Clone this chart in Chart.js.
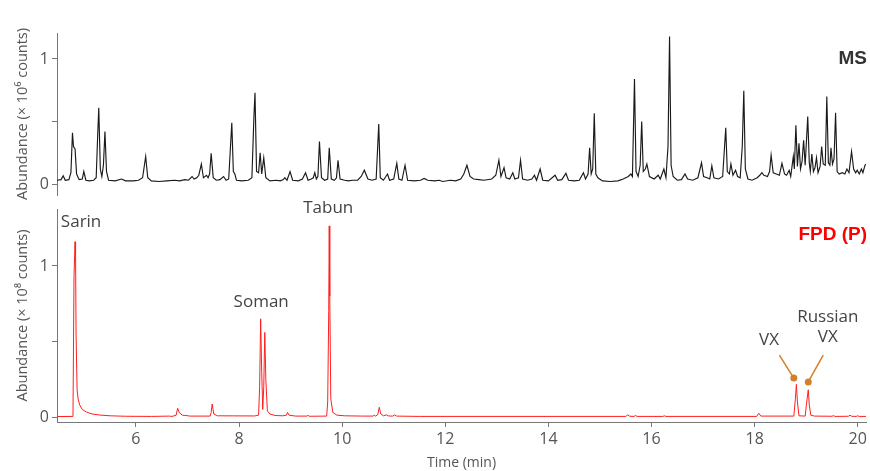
<!DOCTYPE html>
<html>
<head>
<meta charset="utf-8">
<script src="https://cdn.jsdelivr.net/npm/chart.js@4.4.1/dist/chart.umd.min.js"></script>
<style>
  body { margin: 0; background: #fff; }
  #top { position: absolute; left: 0; top: 0; width: 870px; height: 200px; }
  #bot { position: absolute; left: 0; top: 200px; width: 870px; height: 271px; }
</style>
</head>
<body>
<div id="top"><canvas id="msChart"></canvas></div>
<div id="bot"><canvas id="fpdChart"></canvas></div>
<script>
// ---- data ----
const timeRange = [4.47, 20.16];
const timeTicks = [6, 8, 10, 12, 14, 16, 18, 20];
const abundTicks = [0, 0.5, 1];

const msTime = [
  4.47, 4.55, 4.59, 4.63, 4.70, 4.74, 4.77, 4.79, 4.82, 4.85, 4.90, 4.96, 4.99, 5.03, 5.10, 5.18,
  5.23, 5.26, 5.28, 5.31, 5.34, 5.37, 5.40, 5.43, 5.47, 5.60, 5.72, 5.80, 5.95, 6.05, 6.13, 6.19,
  6.23, 6.30, 6.45, 6.60, 6.75, 6.85, 6.95, 7.02, 7.09, 7.13, 7.18, 7.22, 7.27, 7.31, 7.37, 7.40,
  7.43, 7.46, 7.50, 7.56, 7.63, 7.70, 7.75, 7.80, 7.86, 7.89, 7.92, 7.95, 8.05, 8.18, 8.25, 8.29,
  8.31, 8.34, 8.38, 8.41, 8.44, 8.48, 8.52, 8.60, 8.72, 8.80, 8.86, 8.89, 8.93, 8.99, 9.04, 9.15,
  9.23, 9.29, 9.34, 9.40, 9.44, 9.47, 9.50, 9.53, 9.56, 9.60, 9.66, 9.72, 9.75, 9.79, 9.85, 9.89, 9.92, 9.96,
  10.05, 10.12, 10.20, 10.30, 10.37, 10.43, 10.50, 10.58, 10.66, 10.71, 10.74, 10.80, 10.88, 10.92,
  11.00, 11.06, 11.10, 11.16, 11.22, 11.27, 11.40, 11.52, 11.59, 11.66, 11.80, 11.88, 11.95, 12.10,
  12.20, 12.30, 12.36, 12.42, 12.48, 12.55, 12.65, 12.75, 12.90, 12.98, 13.04, 13.08, 13.14, 13.18,
  13.25, 13.31, 13.35, 13.42, 13.46, 13.50, 13.60, 13.68, 13.73, 13.77, 13.84, 13.89, 14.00, 14.13,
  14.18, 14.26, 14.34, 14.39, 14.50, 14.60, 14.68, 14.72, 14.77, 14.80, 14.83, 14.86, 14.89, 14.92,
  14.96, 15.05, 15.20, 15.35, 15.45, 15.55, 15.60, 15.63, 15.65, 15.67, 15.70, 15.74, 15.78, 15.81,
  15.84, 15.88, 15.91, 15.96, 16.05, 16.13, 16.17, 16.24, 16.28, 16.32, 16.35, 16.38, 16.42, 16.50,
  16.58, 16.65, 16.70, 16.80, 16.90, 16.97, 17.01, 17.08, 17.13, 17.17, 17.21, 17.30, 17.38, 17.44,
  17.47, 17.51, 17.54, 17.58, 17.63, 17.67, 17.72, 17.76, 17.79, 17.82, 17.87, 17.95, 18.05, 18.10,
  18.14, 18.18, 18.25, 18.29, 18.32, 18.36, 18.42, 18.48, 18.53, 18.58, 18.62, 18.67, 18.70, 18.75,
  18.77, 18.80, 18.83, 18.86, 18.89, 18.92, 18.95, 18.98, 19.03, 19.06, 19.08, 19.11, 19.14, 19.17,
  19.20, 19.23, 19.27, 19.30, 19.33, 19.37, 19.40, 19.43, 19.46, 19.48, 19.51, 19.54, 19.57, 19.60,
  19.64, 19.70, 19.75, 19.79, 19.83, 19.88, 19.92, 19.96, 19.99, 20.03, 20.07, 20.10, 20.14, 20.16
];
const msSignal = [
  0.03, 0.035, 0.066, 0.03, 0.035, 0.09, 0.41, 0.30, 0.28, 0.08, 0.035, 0.04, 0.10, 0.03, 0.025, 0.03,
  0.05, 0.40, 0.61, 0.12, 0.06, 0.15, 0.42, 0.10, 0.03, 0.025, 0.04, 0.025, 0.025, 0.03, 0.05, 0.22,
  0.05, 0.025, 0.02, 0.025, 0.03, 0.025, 0.035, 0.03, 0.06, 0.04, 0.05, 0.07, 0.16, 0.05, 0.07, 0.05,
  0.08, 0.245, 0.05, 0.03, 0.035, 0.06, 0.03, 0.04, 0.49, 0.10, 0.08, 0.03, 0.025, 0.03, 0.05, 0.55,
  0.73, 0.10, 0.09, 0.25, 0.08, 0.21, 0.05, 0.025, 0.03, 0.025, 0.035, 0.05, 0.03, 0.10, 0.03, 0.025,
  0.04, 0.09, 0.03, 0.04, 0.05, 0.09, 0.04, 0.06, 0.34, 0.05, 0.03, 0.04, 0.29, 0.04, 0.03, 0.05, 0.19, 0.04,
  0.03, 0.025, 0.03, 0.03, 0.06, 0.11, 0.04, 0.03, 0.04, 0.48, 0.05, 0.03, 0.08, 0.03,
  0.04, 0.165, 0.04, 0.03, 0.15, 0.03, 0.025, 0.03, 0.045, 0.03, 0.025, 0.03, 0.02, 0.03,
  0.025, 0.04, 0.08, 0.15, 0.06, 0.04, 0.035, 0.03, 0.04, 0.07, 0.19, 0.06, 0.13, 0.05,
  0.04, 0.09, 0.04, 0.05, 0.19, 0.04, 0.03, 0.04, 0.07, 0.03, 0.12, 0.03, 0.025, 0.07,
  0.03, 0.035, 0.085, 0.03, 0.025, 0.03, 0.09, 0.04, 0.08, 0.29, 0.08, 0.12, 0.565, 0.08,
  0.05, 0.025, 0.02, 0.025, 0.04, 0.06, 0.08, 0.06, 0.45, 0.84, 0.10, 0.06, 0.15, 0.50,
  0.10, 0.12, 0.16, 0.06, 0.04, 0.07, 0.04, 0.12, 0.05, 0.30, 1.18, 0.15, 0.06, 0.03,
  0.035, 0.08, 0.04, 0.03, 0.05, 0.17, 0.06, 0.05, 0.04, 0.145, 0.05, 0.04, 0.06, 0.45,
  0.10, 0.08, 0.16, 0.07, 0.11, 0.06, 0.05, 0.30, 0.745, 0.12, 0.04, 0.03, 0.05, 0.07,
  0.09, 0.07, 0.06, 0.10, 0.23, 0.09, 0.08, 0.07, 0.165, 0.08, 0.07, 0.11, 0.06, 0.22,
  0.12, 0.47, 0.14, 0.325, 0.12, 0.18, 0.35, 0.15, 0.54, 0.17, 0.10, 0.24, 0.10, 0.13,
  0.21, 0.09, 0.14, 0.30, 0.16, 0.15, 0.70, 0.17, 0.15, 0.29, 0.16, 0.20, 0.57, 0.10,
  0.08, 0.09, 0.08, 0.12, 0.09, 0.26, 0.12, 0.09, 0.11, 0.08, 0.12, 0.09, 0.15, 0.16
];

const fpdTime = [
  4.47, 4.78, 4.80, 4.82, 4.83, 4.84, 4.86, 4.88, 4.91, 4.96, 5.04, 5.15, 5.30, 5.50, 5.80, 6.30,
  6.65, 6.70, 6.78, 6.81, 6.84, 6.90, 6.97, 7.05, 7.44, 7.46, 7.48, 7.51, 7.58, 8.30, 8.38, 8.40,
  8.42, 8.44, 8.46, 8.48, 8.50, 8.52, 8.55, 8.60, 8.70, 8.85, 8.92, 8.94, 8.97, 9.10, 9.32, 9.34,
  9.36, 9.70, 9.72, 9.74, 9.75, 9.76, 9.78, 9.82, 9.90, 10.05, 10.40, 10.60, 10.62, 10.65, 10.69,
  10.72, 10.75, 10.80, 10.86, 10.90, 10.98, 11.02, 11.06, 11.50, 15.50, 15.54, 15.58, 15.66, 15.69,
  15.72, 16.22, 16.25, 16.28, 18.04, 18.08, 18.12, 18.76, 18.79, 18.81, 18.83, 18.86, 18.98, 19.01,
  19.04, 19.06, 19.09, 19.16, 19.50, 19.53, 19.56, 19.82, 19.85, 19.88, 19.97, 20.00, 20.03, 20.16
];
const fpdSignal = [
  0.003, 0.004, 0.93, 1.16, 1.08, 0.55, 0.18, 0.12, 0.08, 0.05, 0.033, 0.02, 0.013, 0.008, 0.005, 0.004,
  0.006, 0.004, 0.012, 0.058, 0.03, 0.012, 0.01, 0.006, 0.006, 0.03, 0.086, 0.02, 0.008, 0.007, 0.012, 0.20,
  0.65, 0.30, 0.05, 0.20, 0.56, 0.25, 0.04, 0.02, 0.01, 0.008, 0.012, 0.03, 0.012, 0.006, 0.006, 0.012,
  0.005, 0.006, 0.10, 0.70, 1.265, 0.80, 0.12, 0.03, 0.012, 0.008, 0.006, 0.006, 0.012, 0.006, 0.015,
  0.064, 0.02, 0.008, 0.014, 0.007, 0.006, 0.014, 0.006, 0.004, 0.004, 0.014, 0.005, 0.004, 0.01,
  0.004, 0.004, 0.008, 0.004, 0.004, 0.025, 0.006, 0.006, 0.12, 0.216, 0.10, 0.008, 0.006, 0.10,
  0.18, 0.08, 0.012, 0.006, 0.005, 0.009, 0.004, 0.005, 0.012, 0.005, 0.004, 0.008, 0.004, 0.004
];

const peakNames = ["Sarin", "Soman", "Tabun", "VX", "Russian\nVX"];

// ---- helpers ----
const GREY = "#555";
const FONT = "'Open Sans', sans-serif";
Chart.defaults.font.family = FONT;

const toPoints = (xs, ys) => xs.map((t, i) => ({ x: t, y: ys[i] }));

// keep label overhang from eating into the plot box
const noOverhang = s => { s.paddingTop = 0; s.paddingBottom = 0; s.paddingLeft = 0; s.paddingRight = 0; };

function yAxis(min, max, title) {
  return {
    type: "linear", min, max,
    afterFit: s => { s.width = 57; noOverhang(s); },
    afterBuildTicks: s => { s.ticks = abundTicks.map(v => ({ value: v })); },
    ticks: {
      color: GREY, padding: 3, font: { size: 16 },
      callback: v => (v === 0 || v === 1) ? String(v) : ""
    },
    grid: { drawOnChartArea: false, drawTicks: true, tickLength: 5, color: "#777" },
    border: { display: true, color: "#777" },
    title: { display: true, text: title, color: GREY, font: { size: 14.5 }, padding: { top: 14, bottom: 0 } }
  };
}

// labels + leader lines in data coordinates
const notes = {
  id: "notes",
  afterDraw(chart, args, opts) {
    const { ctx, chartArea } = chart;
    const x = chart.scales.x, y = chart.scales.y;
    ctx.save();
    (opts.leaders || []).forEach(l => {
      const x1 = x.getPixelForValue(l.from[0]), y1 = y.getPixelForValue(l.from[1]);
      const x2 = x.getPixelForValue(l.to[0]), y2 = y.getPixelForValue(l.to[1]);
      ctx.strokeStyle = "#d47f2c";
      ctx.fillStyle = "#d47f2c";
      ctx.lineWidth = 1.5;
      ctx.beginPath(); ctx.moveTo(x1, y1); ctx.lineTo(x2, y2); ctx.stroke();
      ctx.beginPath(); ctx.arc(x2, y2, 3.5, 0, Math.PI * 2); ctx.fill();
    });
    (opts.texts || []).forEach(t => {
      ctx.font = t.font || ("17px " + FONT);
      ctx.fillStyle = t.color || "#444";
      ctx.textAlign = t.align || "center";
      ctx.textBaseline = "middle";
      const px = t.right ? chartArea.right + 1 : x.getPixelForValue(t.at[0]);
      const lines = t.text.split("\n");
      lines.forEach((s, i) => ctx.fillText(s, px, y.getPixelForValue(t.at[1]) + i * 20));
    });
    ctx.restore();
  }
};

// ---- MS panel ----
new Chart(document.getElementById("msChart"), {
  type: "line",
  data: {
    datasets: [{
      data: toPoints(msTime, msSignal),
      borderColor: "#1a1a1a", borderWidth: 1.15, pointRadius: 0, tension: 0
    }]
  },
  options: {
    responsive: true, maintainAspectRatio: false, animation: false,
    layout: { padding: { top: 33, right: 4, bottom: 5, left: 0 } },
    plugins: {
      legend: { display: false }, tooltip: { enabled: false },
      notes: {
        texts: [{ text: "MS", at: [0, 1.0], right: true, align: "right", color: "#333", font: "bold 19px 'Liberation Sans', sans-serif" }]
      }
    },
    scales: {
      x: { type: "linear", display: false, min: timeRange[0], max: timeRange[1] },
      y: yAxis(-0.088, 1.208, "Abundance (× 10\u2076 counts)")
    }
  },
  plugins: [notes]
});

// ---- FPD panel ----
new Chart(document.getElementById("fpdChart"), {
  type: "line",
  data: {
    datasets: [{
      data: toPoints(fpdTime, fpdSignal),
      borderColor: "#ff1f1f", borderWidth: 1, pointRadius: 0, tension: 0
    }]
  },
  options: {
    responsive: true, maintainAspectRatio: false, animation: false,
    layout: { padding: { top: 9, right: 4, bottom: 0, left: 0 } },
    plugins: {
      legend: { display: false }, tooltip: { enabled: false },
      notes: {
        leaders: [
          { from: [18.48, 0.41], to: [18.76, 0.258] },
          { from: [19.33, 0.41], to: [19.04, 0.232] }
        ],
        texts: [
          { text: "FPD (P)", at: [0, 1.205], right: true, align: "right", color: "#ff0000", font: "bold 19px 'Liberation Sans', sans-serif" },
          { text: peakNames[0], at: [4.545, 1.293], align: "left" },
          { text: peakNames[1], at: [8.43, 0.762] },
          { text: peakNames[2], at: [9.73, 1.382] },
          { text: peakNames[3], at: [18.28, 0.51] },
          { text: peakNames[4], at: [19.42, 0.664] }
        ]
      }
    },
    scales: {
      x: {
        type: "linear", min: timeRange[0], max: timeRange[1],
        afterFit: s => { s.height = 49; noOverhang(s); },
        afterBuildTicks: s => { s.ticks = timeTicks.map(v => ({ value: v })); },
        ticks: { color: GREY, padding: 3, font: { size: 16 } },
        grid: { drawOnChartArea: false, drawTicks: true, tickLength: 5, color: "#777" },
        border: { display: true, color: "#777" },
        title: { display: true, text: "Time (min)", color: GREY, font: { size: 14 }, padding: { top: 0, bottom: 0 } }
      },
      y: yAxis(-0.033, 1.377, "Abundance (× 10\u2078 counts)")
    }
  },
  plugins: [notes]
});
</script>
</body>
</html>
